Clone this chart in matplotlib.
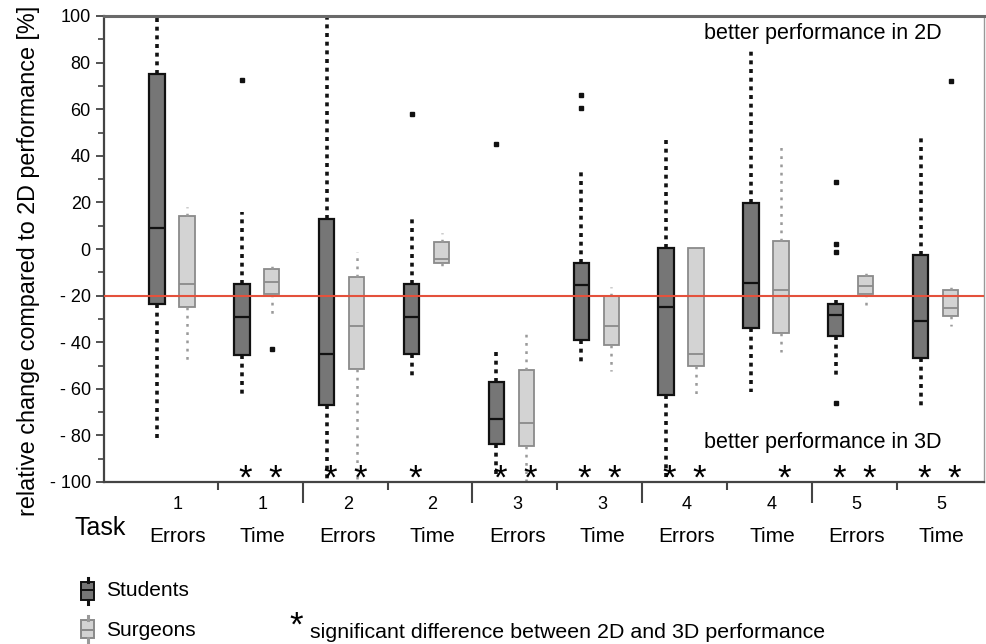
import matplotlib
matplotlib.use('Agg')
import matplotlib.pyplot as plt
from matplotlib.patches import Rectangle
from matplotlib.lines import Line2D
from matplotlib.transforms import blended_transform_factory
import numpy as np

plt.rcParams['font.family'] = ['Liberation Sans', 'DejaVu Sans']

# ---------------- data ----------------
task_numbers = ['1', '1', '2', '2', '3', '3', '4', '4', '5', '5']
measures = ['Errors', 'Time', 'Errors', 'Time', 'Errors', 'Time', 'Errors', 'Time', 'Errors', 'Time']

stu_q1 = [-23.4, -45.6, -66.8, -44.9, -83.9, -39.1, -62.5, -33.9, -37.4, -46.7]
stu_med = [8.8, -29.1, -44.9, -29.1, -72.8, -15.5, -24.8, -14.8, -28.4, -31.0]
stu_q3 = [75.2, -15.0, 12.8, -15.0, -57.0, -5.9, 0.5, 19.6, -23.7, -2.6]
stu_lo = [-81.0, -63.5, -100.0, -56.0, -98.0, -50.3, -100.0, -61.3, -55.6, -68.0]
stu_hi = [100.0, 15.8, 100.0, 12.8, -42.7, 34.9, 48.5, 86.8, -20.1, 48.5]
stu_out = [[], [72.7], [], [57.8], [45.0], [66.1, 60.4], [], [], [28.8, 2.0, -1.2, -66.3], []]

sur_q1 = [-24.8, -19.1, -51.3, -6.2, -84.5, -41.3, -50.2, -36.0, -19.1, -28.8]
sur_med = [-15.1, -14.1, -33.1, -4.1, -74.5, -33.1, -44.9, -17.7, -16.0, -25.5]
sur_q3 = [14.0, -8.5, -11.9, 3.1, -52.0, -20.2, 0.5, 3.5, -11.4, -17.7]
sur_lo = [-49.2, -29.5, -100.0, -7.3, -100.0, -52.3, -64.2, -44.2, -26.0, -33.1]
sur_hi = [18.1, -7.5, -1.2, 6.7, -34.6, -16.5, 0.5, 44.3, -9.5, -16.5]
sur_out = [[], [-43.1], [], [], [], [], [], [], [], [72.1]]

sig_students = [0, 1, 1, 1, 1, 1, 1, 0, 1, 1]
sig_surgeons = [0, 1, 1, 0, 1, 1, 1, 1, 1, 1]

reference_level = -20


def make_stats(q1, med, q3, lo, hi, out):
    return [dict(q1=a, med=b, q3=c, whislo=d, whishi=e, fliers=f)
            for a, b, c, d, e, f in zip(q1, med, q3, lo, hi, out)]


W, H = 987, 644
fig = plt.figure(figsize=(W / 100, H / 100), dpi=100)
ax = fig.add_axes([104 / W, 1 - 482 / H, (984 - 104) / W, (482 - 16) / H])

pos = np.arange(1, len(task_numbers) + 1)
pos_stu = pos - 0.247
pos_sur = pos + 0.106

ax.bxp(make_stats(stu_q1, stu_med, stu_q3, stu_lo, stu_hi, stu_out),
       positions=pos_stu, widths=0.18, patch_artist=True, showcaps=False,
       boxprops=dict(facecolor='#767676', edgecolor='#111111', linewidth=1.6),
       medianprops=dict(color='#111111', linewidth=1.6),
       whiskerprops=dict(color='#111111', linewidth=2.6, linestyle=(0, (1.1, 1.3))),
       flierprops=dict(marker='s', markersize=3.4, markerfacecolor='#111111',
                       markeredgecolor='#111111'))

ax.bxp(make_stats(sur_q1, sur_med, sur_q3, sur_lo, sur_hi, sur_out),
       positions=pos_sur, widths=0.18, patch_artist=True, showcaps=False,
       boxprops=dict(facecolor='#d3d3d3', edgecolor='#8a8a8a', linewidth=1.3),
       medianprops=dict(color='#8a8a8a', linewidth=1.3),
       whiskerprops=dict(color='#9a9a9a', linewidth=1.8, linestyle=(0, (1.1, 2.2))),
       flierprops=dict(marker='s', markersize=3.4, markerfacecolor='#111111',
                       markeredgecolor='#111111'))

ax.axhline(reference_level, color='#e4513c', linewidth=1.5, zorder=6)

# significance stars
for x, s in zip(pos_stu, sig_students):
    if s:
        ax.text(x + 0.04, -103, '*', fontsize=25, ha='center', va='baseline', zorder=7)
for x, s in zip(pos_sur, sig_surgeons):
    if s:
        ax.text(x + 0.04, -103, '*', fontsize=25, ha='center', va='baseline', zorder=7)

ax.text(8.596, 92.7, 'better performance in 2D', fontsize=15.5, ha='center', va='center')
ax.text(8.596, -82.9, 'better performance in 3D', fontsize=15.5, ha='center', va='center')

# axes formatting
ax.set_xlim(0.128, 10.5)
ax.set_ylim(-100, 100)
yt = np.arange(-100, 101, 20)
ax.set_yticks(yt)
ax.set_yticklabels([f'- {abs(v)}' if v < 0 else str(v) for v in yt], fontsize=13)
ax.set_yticks(np.arange(-90, 100, 20), minor=True)
ax.tick_params(axis='y', which='major', direction='out', length=6, width=1.3, color='#444444')
ax.tick_params(axis='y', which='minor', direction='out', length=4, width=1.2, color='#444444')

ax.set_xticks(pos[1:-1:2] + 0.47)
ax.set_xticklabels([])
ax.set_xticks(pos[0::2] + 0.47, minor=True)
ax.tick_params(axis='x', which='major', direction='out', length=15, width=1.5, color='#444444')
ax.tick_params(axis='x', which='minor', direction='out', length=6, width=1.5, color='#444444')

ax.spines['left'].set_color('#444444')
ax.spines['left'].set_linewidth(1.6)
ax.spines['bottom'].set_color('#444444')
ax.spines['bottom'].set_linewidth(1.6)
ax.spines['top'].set_color('#6a6a6a')
ax.spines['top'].set_linewidth(2.2)
ax.spines['right'].set_color('#999999')
ax.spines['right'].set_linewidth(1.0)

ax.set_ylabel('relative change compared to 2D performance [%]', fontsize=16.8)
ax.yaxis.set_label_coords((40 - 104) / 880, (482 - 261) / 466)

trans = blended_transform_factory(ax.transData, ax.transAxes)
for x, n, m in zip(pos, task_numbers, measures):
    ax.text(x, -0.049, n, transform=trans, fontsize=13, ha='center', va='center')
    ax.text(x, -0.118, m, transform=trans, fontsize=15, ha='center', va='center')

fig.text(100 / W, 1 - 528 / H, 'Task', fontsize=18, ha='center', va='center')

# legend
def icon(y_top, y_bot, y_med, face, edge, whis):
    x0, x1 = 81, 94
    fig.patches.append(Rectangle((x0 / W, 1 - y_bot / H), (x1 - x0) / W, (y_bot - y_top) / H,
                                 transform=fig.transFigure, facecolor=face, edgecolor=edge,
                                 linewidth=1.4))
    xm = (x0 + x1) / 2 / W
    fig.lines.append(Line2D([x0 / W, x1 / W], [1 - y_med / H] * 2, transform=fig.transFigure,
                            color=edge, linewidth=1.4))
    fig.lines.append(Line2D([xm, xm], [1 - (y_top - 4) / H, 1 - y_top / H],
                            transform=fig.transFigure, color=whis, linewidth=2.2))
    fig.lines.append(Line2D([xm, xm], [1 - y_bot / H, 1 - (y_bot + 4) / H],
                            transform=fig.transFigure, color=whis, linewidth=2.2))

icon(582, 600, 590, '#767676', '#111111', '#111111')
icon(620, 638, 630, '#d3d3d3', '#8a8a8a', '#9a9a9a')
fig.text(106 / W, 1 - 590 / H, 'Students', fontsize=15, ha='left', va='center')
fig.text(106 / W, 1 - 630 / H, 'Surgeons', fontsize=15, ha='left', va='center')
fig.text(296 / W, 1 - 636 / H, '*', fontsize=25, ha='center', va='baseline')
fig.text(310 / W, 1 - 632 / H, 'significant difference between 2D and 3D performance',
         fontsize=15.4, ha='left', va='center')

fig.savefig('out.png', dpi=100)
